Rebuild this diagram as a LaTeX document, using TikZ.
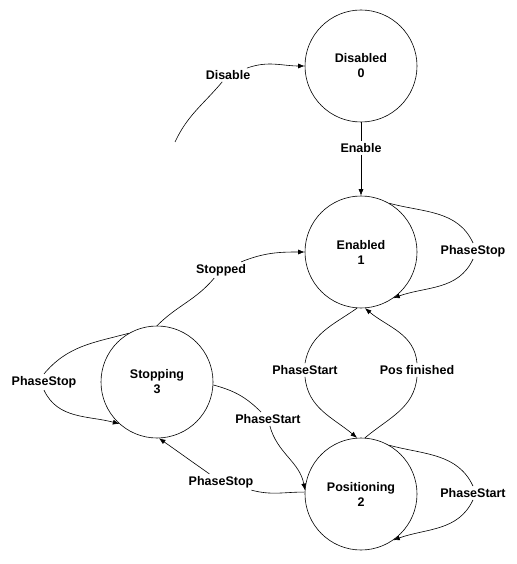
\documentclass[tikz,border=0pt]{standalone}
\usepackage{fontspec}
\setmainfont{Liberation Sans}
\usetikzlibrary{arrows.meta}
\begin{document}
\begin{tikzpicture}[x=1pt,y=1pt,
  every path/.style={line width=0.6pt},
  state/.style={circle,draw,minimum size=112pt,inner sep=0pt,align=center,
    font=\fontsize{12.5}{15}\selectfont\bfseries},
  lbl/.style={inner sep=2pt,font=\fontsize{12.5}{15}\selectfont\bfseries},
  arr/.style={-{Latex[length=6.5pt,width=5pt]}}]
\useasboundingbox (0,0) rectangle (516,-564);
\fill[white] (0,0) rectangle (516,-564);
% states
\node[state] (D) at (361,-66) {Disabled\\0};
\node[state] (E) at (361,-252) {Enabled\\1};
\node[state] (P) at (361,-494) {Positioning\\2};
\node[state] (S) at (157,-382) {Stopping\\3};
% labels
\node[lbl] (ld)   at (228,-75)  {Disable};
\node[lbl] (le)   at (361,-148) {Enable};
\node[lbl] (ls)   at (221,-270) {Stopped};
\node[lbl] (lE)   at (473,-251) {PhaseStop};
\node[lbl] (lps)  at (305,-370) {PhaseStart};
\node[lbl] (lpf)  at (417,-370) {Pos finished};
\node[lbl] (lP)   at (473,-493) {PhaseStart};
\node[lbl] (lS)   at (44,-382)  {PhaseStop};
\node[lbl] (lsp)  at (268,-419) {PhaseStart};
\node[lbl] (lpst) at (221,-482) {PhaseStop};
\coordinate (d0) at (175,-142);
% Disable
\draw (d0) to[out=65,in=-130] (ld);
\draw[arr] (ld) to[out=20,in=180] (D.180);
% Enable
\draw (D) -- (le);
\draw[arr] (le) -- (E);
% Stopped
\draw (S.90) to[out=45,in=-130] (ls);
\draw[arr] (ls) to[out=22,in=180] (E.180);
% Enabled self loop
\draw (E.60) to[out=-15,in=115] (lE.north);
\draw[arr] (lE.south) to[out=-115,in=20] (E.-55);
% Positioning self loop
\draw (P.60) to[out=-15,in=115] (lP.north);
\draw[arr] (lP.south) to[out=-115,in=20] (P.-55);
% Stopping self loop
\draw (S.120) to[out=195,in=50] (lS.north);
\draw[arr] (lS.south) to[out=-65,in=165] (S.228);
% PhaseStart E -> P
\draw (E.-94) to[out=215,in=80] (lps.north);
\draw[arr] (lps.south) to[out=-85,in=140] (P.94);
% Pos finished P -> E
\draw (P.86) to[out=40,in=-95] (lpf.south);
\draw[arr] (lpf.north) to[out=95,in=-40] (E.-86);
% PhaseStart S -> P
\draw (S.-3) to[out=-15,in=135] (lsp);
\draw[arr] (lsp) to[out=-75,in=100] (P.176);
% PhaseStop P -> S
\draw (P.178) to[out=180,in=-15] (lpst);
\draw[arr] (lpst) to[out=145,in=-35] (S.-88);
\end{tikzpicture}
\end{document}
